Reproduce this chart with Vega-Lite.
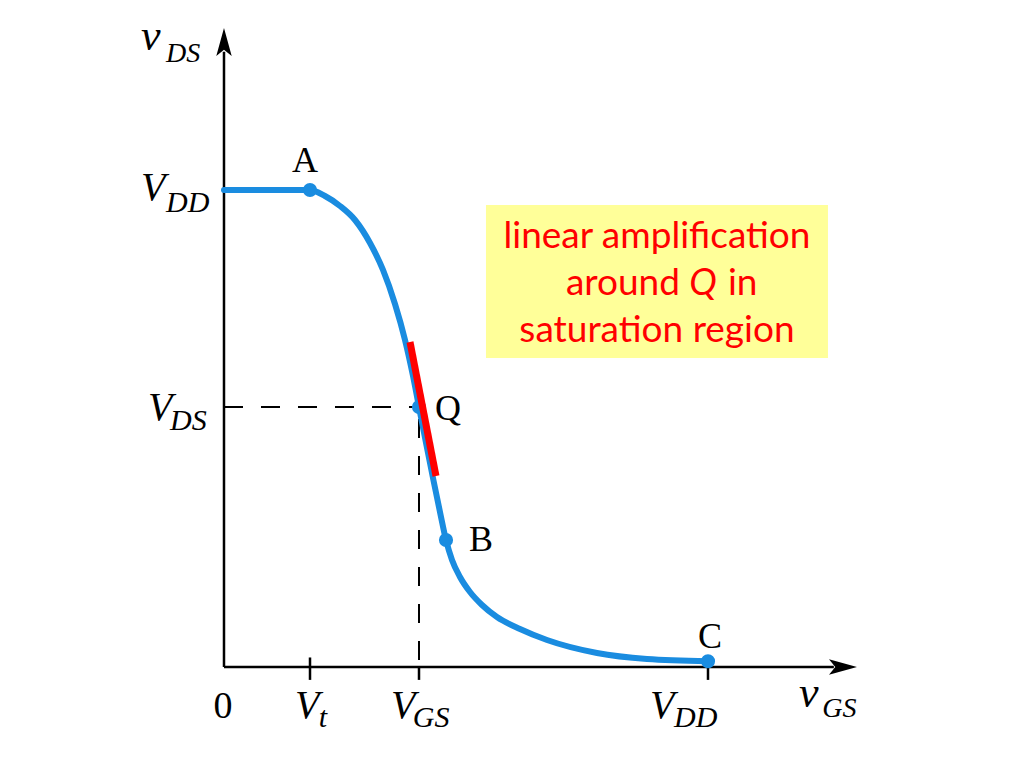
{
  "$schema": "https://vega.github.io/schema/vega-lite/v6.json",
  "width": 1024,
  "height": 768,
  "autosize": {"type": "fit", "contains": "padding"},
  "padding": 0,
  "background": "white",
  "config": {"view": {"stroke": null}},
  "datasets": {
    "curve": [
      {"x": 0, "y": 10.0}, {"x": 1.777, "y": 10.0}, {"x": 2.087, "y": 9.874}, {"x": 2.397, "y": 9.665},
      {"x": 2.707, "y": 9.371}, {"x": 3.017, "y": 8.889}, {"x": 3.285, "y": 8.323}, {"x": 3.533, "y": 7.61},
      {"x": 3.74, "y": 6.855}, {"x": 3.905, "y": 6.101}, {"x": 4.029, "y": 5.451}, {"x": 4.174, "y": 4.696},
      {"x": 4.318, "y": 3.962}, {"x": 4.463, "y": 3.249}, {"x": 4.587, "y": 2.662}, {"x": 4.711, "y": 2.243},
      {"x": 4.876, "y": 1.887}, {"x": 5.083, "y": 1.572}, {"x": 5.331, "y": 1.3}, {"x": 5.64, "y": 1.048},
      {"x": 6.116, "y": 0.797}, {"x": 6.674, "y": 0.566}, {"x": 7.707, "y": 0.294}, {"x": 8.74, "y": 0.168},
      {"x": 10.0, "y": 0.12}
    ],
    "dots": [
      {"name": "A", "x": 1.777, "y": 10.0}, {"name": "Q", "x": 4.029, "y": 5.451},
      {"name": "B", "x": 4.587, "y": 2.662}, {"name": "C", "x": 10.0, "y": 0.12}
    ],
    "tangent": [{"x": 3.843, "y": 6.813, "x2": 4.38, "y2": 4.004}],
    "axes": [
      {"x": 0, "y": 0, "x2": 0, "y2": 12.9},
      {"x": 0, "y": 0, "x2": 12.6, "y2": 0},
      {"x": 1.777, "y": 0.2, "x2": 1.777, "y2": -0.27},
      {"x": 4.029, "y": 0, "x2": 4.029, "y2": -0.27},
      {"x": 10.0, "y": 0.2, "x2": 10.0, "y2": -0.27}
    ],
    "dashed": [
      {"x": 0, "y": 5.451, "x2": 3.95, "y2": 5.451},
      {"x": 4.029, "y": 5.2, "x2": 4.029, "y2": 0}
    ],
    "arrowUp": [{"x": 0, "y": 13.103}],
    "arrowRight": [{"x": 12.789, "y": 0}],
    "box": [{"x": 5.413, "y": 9.686, "x2": 12.479, "y2": 6.478}],
    "pointLabels": [
      {"label": "A", "x": 1.674, "y": 10.377}, {"label": "Q", "x": 4.628, "y": 5.178},
      {"label": "B", "x": 5.31, "y": 2.432}, {"label": "C", "x": 10.04, "y": 0.398}
    ],
    "bigV": [
      {"label": "V", "x": -1.715, "y": 9.79}, {"label": "V", "x": -1.57, "y": 5.178},
      {"label": "V", "x": 1.467, "y": -1.069}, {"label": "V", "x": 3.45, "y": -1.069},
      {"label": "V", "x": 8.802, "y": -1.069}
    ],
    "subs": [
      {"label": "DD", "x": -1.198, "y": 9.539}, {"label": "DS", "x": -1.116, "y": 4.969},
      {"label": "t", "x": 1.96, "y": -1.258}, {"label": "GS", "x": 3.9, "y": -1.258},
      {"label": "DD", "x": 9.3, "y": -1.258}
    ],
    "smallV": [
      {"label": "v", "x": -1.715, "y": 12.935}, {"label": "v", "x": 11.88, "y": -0.839}
    ],
    "smallSubs": [
      {"label": "DS", "x": -1.198, "y": 12.683}, {"label": "GS", "x": 12.36, "y": -1.048}
    ],
    "zero": [{"label": "0", "x": -0.021, "y": -1.069}],
    "boxCenter": [
      {"label": "linear amplification", "x": 8.946, "y": 8.784},
      {"label": "saturation region", "x": 8.946, "y": 6.813}
    ],
    "boxRight": [{"label": "around", "x": 9.421, "y": 7.799}],
    "boxQ": [{"label": "Q", "x": 9.897, "y": 7.799}],
    "boxLeft": [{"label": "in", "x": 10.413, "y": 7.799}]
  },
  "encoding": {
    "x": {"field": "x", "type": "quantitative", "scale": {"domain": [-4.628, 16.529], "nice": false, "zero": false}, "axis": null},
    "y": {"field": "y", "type": "quantitative", "scale": {"domain": [-2.117, 13.983], "nice": false, "zero": false}, "axis": null}
  },
  "layer": [
    {
      "data": {"name": "box"},
      "mark": {"type": "rect", "color": "#ffff99"},
      "encoding": {"x2": {"field": "x2"}, "y2": {"field": "y2"}}
    },
    {
      "data": {"name": "axes"},
      "mark": {"type": "rule", "color": "black", "strokeWidth": 2.5},
      "encoding": {"x2": {"field": "x2"}, "y2": {"field": "y2"}}
    },
    {
      "data": {"name": "dashed"},
      "mark": {"type": "rule", "color": "black", "strokeWidth": 2, "strokeDash": [19, 18]},
      "encoding": {"x2": {"field": "x2"}, "y2": {"field": "y2"}}
    },
    {
      "data": {"name": "arrowUp"},
      "mark": {"type": "point", "shape": "M0,-1L0.55,1L0,0.55L-0.55,1Z", "size": 784, "filled": true, "color": "black", "opacity": 1, "strokeWidth": 0}
    },
    {
      "data": {"name": "arrowRight"},
      "mark": {"type": "point", "shape": "M1,0L-1,0.55L-0.55,0L-1,-0.55Z", "size": 784, "filled": true, "color": "black", "opacity": 1, "strokeWidth": 0}
    },
    {
      "data": {"name": "curve"},
      "mark": {"type": "line", "color": "#1a8ce0", "strokeWidth": 6, "interpolate": "monotone", "strokeCap": "round"}
    },
    {
      "data": {"name": "dots"},
      "mark": {"type": "circle", "color": "#1a8ce0", "size": 200, "opacity": 1}
    },
    {
      "data": {"name": "tangent"},
      "mark": {"type": "rule", "color": "#ff0000", "strokeWidth": 7},
      "encoding": {"x2": {"field": "x2"}, "y2": {"field": "y2"}}
    },
    {
      "data": {"name": "pointLabels"},
      "mark": {"type": "text", "font": "Liberation Serif", "fontSize": 36, "align": "center", "baseline": "alphabetic", "color": "black"},
      "encoding": {"text": {"field": "label"}}
    },
    {
      "data": {"name": "bigV"},
      "mark": {"type": "text", "font": "Liberation Serif", "fontStyle": "italic", "fontSize": 40, "align": "left", "baseline": "alphabetic", "color": "black"},
      "encoding": {"text": {"field": "label"}}
    },
    {
      "data": {"name": "subs"},
      "mark": {"type": "text", "font": "Liberation Serif", "fontStyle": "italic", "fontSize": 30, "align": "left", "baseline": "alphabetic", "color": "black"},
      "encoding": {"text": {"field": "label"}}
    },
    {
      "data": {"name": "smallV"},
      "mark": {"type": "text", "font": "Liberation Serif", "fontStyle": "italic", "fontSize": 44, "align": "left", "baseline": "alphabetic", "color": "black"},
      "encoding": {"text": {"field": "label"}}
    },
    {
      "data": {"name": "smallSubs"},
      "mark": {"type": "text", "font": "Liberation Serif", "fontStyle": "italic", "fontSize": 28, "align": "left", "baseline": "alphabetic", "color": "black"},
      "encoding": {"text": {"field": "label"}}
    },
    {
      "data": {"name": "zero"},
      "mark": {"type": "text", "font": "Liberation Serif", "fontSize": 38, "align": "center", "baseline": "alphabetic", "color": "black"},
      "encoding": {"text": {"field": "label"}}
    },
    {
      "data": {"name": "boxCenter"},
      "mark": {"type": "text", "font": "Lato", "fontSize": 37, "align": "center", "baseline": "alphabetic", "color": "#ff0000"},
      "encoding": {"text": {"field": "label"}}
    },
    {
      "data": {"name": "boxRight"},
      "mark": {"type": "text", "font": "Lato", "fontSize": 37, "align": "right", "baseline": "alphabetic", "color": "#ff0000"},
      "encoding": {"text": {"field": "label"}}
    },
    {
      "data": {"name": "boxQ"},
      "mark": {"type": "text", "font": "Lato", "fontStyle": "italic", "fontSize": 37, "align": "center", "baseline": "alphabetic", "color": "#ff0000"},
      "encoding": {"text": {"field": "label"}}
    },
    {
      "data": {"name": "boxLeft"},
      "mark": {"type": "text", "font": "Lato", "fontSize": 37, "align": "left", "baseline": "alphabetic", "color": "#ff0000"},
      "encoding": {"text": {"field": "label"}}
    }
  ]
}
